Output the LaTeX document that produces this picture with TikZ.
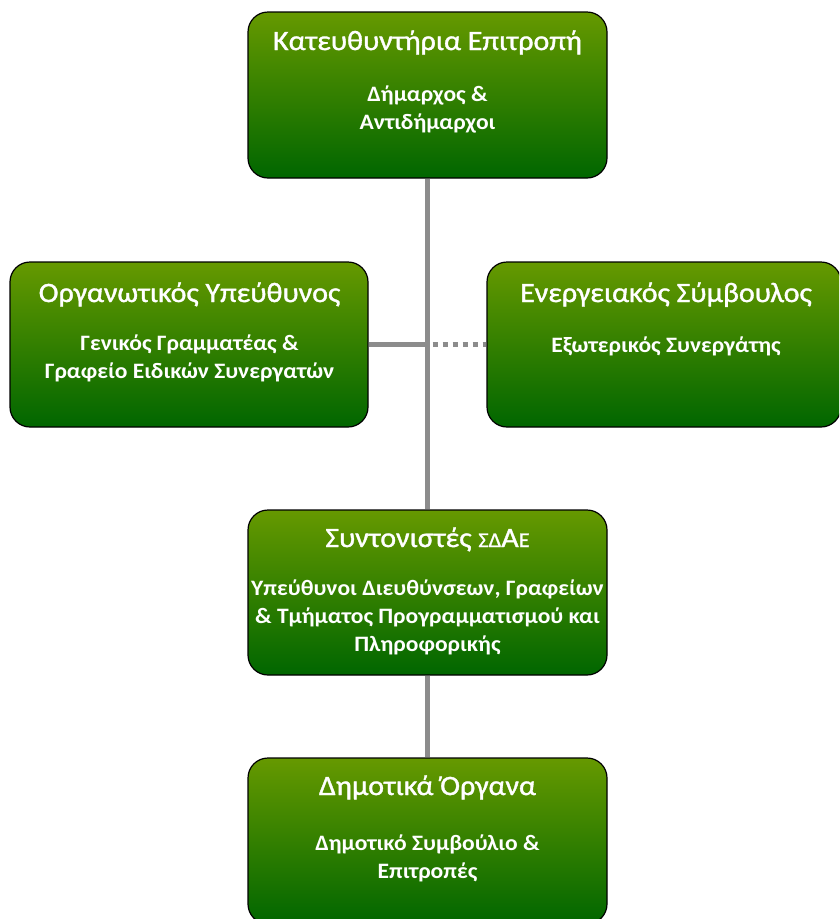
\documentclass[tikz,border=0pt]{standalone}
\usepackage{fontspec}
\setmainfont{Carlito}[FakeStretch=1.07]
\newfontfamily\ttlfont{Carlito}[FakeStretch=1.07, FakeBold=1.3]
\definecolor{gtop}{RGB}{102,153,0}
\definecolor{gbot}{RGB}{0,102,0}
\definecolor{conn}{RGB}{140,140,140}
\tikzset{
  box/.style={draw=black, line width=1.2pt, rounded corners=20pt,
    top color=gtop, bottom color=gbot, minimum width=#1, inner sep=0pt},
  box/.default=359pt,
  ttl/.style={text=white, font=\ttlfont\fontsize{28}{32}\selectfont, anchor=base, inner sep=0pt},
  sub/.style={text=white, font=\fontsize{22}{28}\selectfont\bfseries, anchor=base, align=center, inner sep=0pt},
  link/.style={draw=conn, line width=5pt},
  dotlink/.style={draw=conn, line width=5pt, dash pattern=on 5pt off 5pt}
}
\begin{document}
\begin{tikzpicture}[x=1pt,y=-1pt]
\useasboundingbox (0,0) rectangle (839,919);
\clip (0,0) rectangle (839,919);
% boxes
\node[box, minimum height=166pt] (top) at (427.5,95) {};
\node[box=358pt, minimum height=165pt] (left) at (189,344.5) {};
\node[box=354pt, minimum height=165pt] (right) at (664,344.5) {};
\node[box, minimum height=165pt] (mid) at (427.5,592.5) {};
\node[box, minimum height=166pt] (bot) at (427.5,841) {};
% connectors
\draw[link] (top.south) -- (mid.north);
\draw[link] (mid.south) -- (bot.north);
\draw[link] (left.east) -- (left.east -| top.south);
\coordinate (dstart) at ([xshift=5pt]right.west -| top.south);
\draw[dotlink] (dstart) -- (right.west);
% texts (base anchor of a multi-line node = last line's baseline)
\node[ttl] (t1) at (427.5,50) {Κατευθυντήρια Επιτροπή};
\node[sub] (s1) at (427.5,129) {Δήμαρχος \&\\Αντιδήμαρχοι};
\node[ttl] (t2) at (189.5,302) {Οργανωτικός Υπεύθυνος};
\node[sub] (s2) at (189.5,378) {Γενικός Γραμματέας \&\\Γραφείο Ειδικών Συνεργατών};
\node[ttl] (t3) at (666,302) {Ενεργειακός Σύμβουλος};
\node[sub] (s3) at (666,352) {Εξωτερικός Συνεργάτης};
\node[ttl] (t4) at (427.5,547) {Συντονιστές {\fontsize{21}{24}\selectfont ΣΔ}Α{\fontsize{21}{24}\selectfont Ε}};
\node[sub] (s4) at (427.5,651) {Υπεύθυνοι Διευθύνσεων, Γραφείων\\\& Τμήματος Προγραμματισμού και\\Πληροφορικής};
\node[ttl] (t5) at (427.5,795) {Δημοτικά Όργανα};
\node[sub] (s5) at (427.5,878) {Δημοτικό Συμβούλιο \&\\Επιτροπές};
\end{tikzpicture}
\end{document}
